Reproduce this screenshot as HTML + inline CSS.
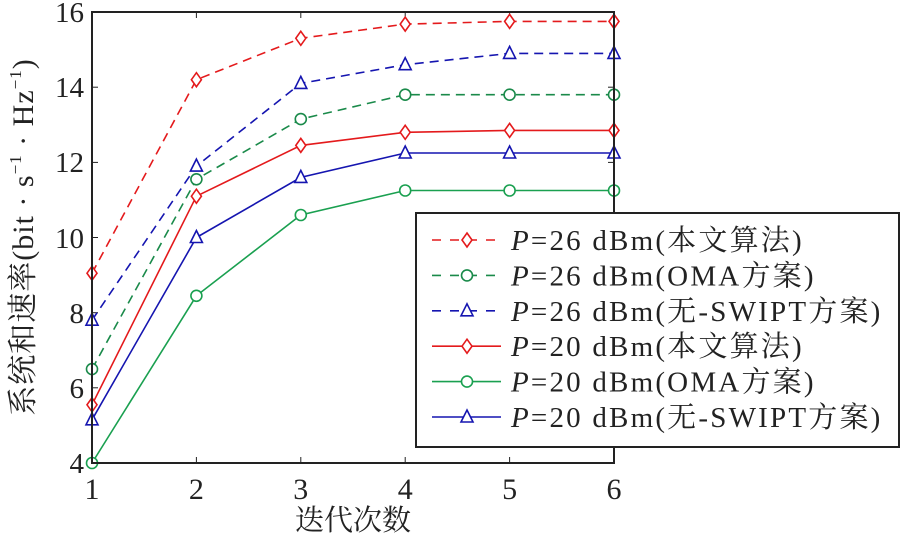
<!DOCTYPE html><html><head><meta charset="utf-8"><style>body{margin:0;background:#fff}</style></head><body>
<svg width="900" height="538" xmlns="http://www.w3.org/2000/svg" font-family="'Liberation Serif','Noto Serif CJK SC',serif" fill="#222">
<defs>
<marker id="dr" markerUnits="userSpaceOnUse" markerWidth="16" markerHeight="18" refX="8" refY="9" overflow="visible"><path d="M8 2L13 9L8 16L3 9Z" fill="#fff" stroke="#e41a1c" stroke-width="1.6"/></marker>
<marker id="og" markerUnits="userSpaceOnUse" markerWidth="16" markerHeight="16" refX="8" refY="8" overflow="visible"><circle cx="8" cy="8" r="5.5" fill="#fff" stroke="#1a8a4a" stroke-width="1.6"/></marker>
<marker id="og2" markerUnits="userSpaceOnUse" markerWidth="16" markerHeight="16" refX="8" refY="8" overflow="visible"><circle cx="8" cy="8" r="5.5" fill="#fff" stroke="#1aa050" stroke-width="1.6"/></marker>
<marker id="tb" markerUnits="userSpaceOnUse" markerWidth="16" markerHeight="16" refX="8" refY="8" overflow="visible"><path d="M8 1L14 13L2 13Z" fill="#fff" stroke="#1515b0" stroke-width="1.6"/></marker>
</defs>
<g stroke="#222" stroke-width="1">
<line x1="92" y1="387.8" x2="98" y2="387.8"/><line x1="92" y1="312.7" x2="98" y2="312.7"/><line x1="92" y1="237.5" x2="98" y2="237.5"/><line x1="92" y1="162.4" x2="98" y2="162.4"/><line x1="92" y1="87.2" x2="98" y2="87.2"/>
<line x1="608" y1="387.8" x2="614" y2="387.8"/><line x1="608" y1="312.7" x2="614" y2="312.7"/><line x1="608" y1="237.5" x2="614" y2="237.5"/><line x1="608" y1="162.4" x2="614" y2="162.4"/><line x1="608" y1="87.2" x2="614" y2="87.2"/>
<line x1="196.4" y1="463" x2="196.4" y2="457"/><line x1="300.8" y1="463" x2="300.8" y2="457"/><line x1="405.2" y1="463" x2="405.2" y2="457"/><line x1="509.6" y1="463" x2="509.6" y2="457"/>
<line x1="196.4" y1="12" x2="196.4" y2="18"/><line x1="300.8" y1="12" x2="300.8" y2="18"/><line x1="405.2" y1="12" x2="405.2" y2="18"/><line x1="509.6" y1="12" x2="509.6" y2="18"/>
</g>
<g font-size="29" text-anchor="end">
<text x="84" y="473">4</text><text x="84" y="398">6</text><text x="84" y="323">8</text><text x="84" y="248">10</text><text x="84" y="172">12</text><text x="84" y="97">14</text><text x="84" y="22">16</text>
</g>
<g font-size="30" text-anchor="middle">
<text x="92" y="499">1</text><text x="196.4" y="499">2</text><text x="300.8" y="499">3</text><text x="405.2" y="499">4</text><text x="509.6" y="499">5</text><text x="614" y="499">6</text>
</g>
<g fill="none" stroke-width="1.6">
<polyline stroke="#e41a1c" stroke-dasharray="9,6" points="92,273.2 196.4,79.7 300.8,38.3 405.2,24.1 509.6,21.4 614,21.4" marker-start="url(#dr)" marker-mid="url(#dr)" marker-end="url(#dr)"/>
<polyline stroke="#1a8a4a" stroke-dasharray="9,6" points="92,369.1 196.4,179.3 300.8,119.1 405.2,94.7 509.6,94.7 614,94.7" marker-start="url(#og)" marker-mid="url(#og)" marker-end="url(#og)"/>
<polyline stroke="#1515b0" stroke-dasharray="9,6" points="92,320.2 196.4,166.1 300.8,83.4 405.2,64.7 509.6,53.4 614,53.4" marker-start="url(#tb)" marker-mid="url(#tb)" marker-end="url(#tb)"/>
<polyline stroke="#e41a1c" points="92,404.8 196.4,196.2 300.8,145.4 405.2,132.3 509.6,130.4 614,130.4" marker-start="url(#dr)" marker-mid="url(#dr)" marker-end="url(#dr)"/>
<polyline stroke="#1aa050" points="92,463 196.4,295.8 300.8,215 405.2,190.5 509.6,190.5 614,190.5" marker-start="url(#og2)" marker-mid="url(#og2)" marker-end="url(#og2)"/>
<polyline stroke="#1515b0" points="92,419.8 196.4,237.5 300.8,177.4 405.2,153 509.6,153 614,153" marker-start="url(#tb)" marker-mid="url(#tb)" marker-end="url(#tb)"/>
</g>
<rect x="92" y="12" width="522" height="451" fill="none" stroke="#222" stroke-width="2"/>
<rect x="416" y="213" width="483" height="234" fill="#fff" stroke="#222" stroke-width="2"/>
<g fill="none" stroke-width="1.6">
<polyline stroke="#e41a1c" stroke-dasharray="9,9" points="432,240 467,240 501,240" marker-mid="url(#dr)"/>
<polyline stroke="#1a8a4a" stroke-dasharray="9,9" points="432,275.4 467,275.4 501,275.4" marker-mid="url(#og)"/>
<polyline stroke="#1515b0" stroke-dasharray="9,9" points="432,310.8 467,310.8 501,310.8" marker-mid="url(#tb)"/>
<polyline stroke="#e41a1c" points="432,346.2 467,346.2 501,346.2" marker-mid="url(#dr)"/>
<polyline stroke="#1aa050" points="432,381.6 467,381.6 501,381.6" marker-mid="url(#og2)"/>
<polyline stroke="#1515b0" points="432,417 467,417 501,417" marker-mid="url(#tb)"/>
</g>
<g font-size="29" letter-spacing="2.2">
<text x="511" y="250"><tspan font-style="italic">P</tspan>=26 dBm(本文算法)</text>
<text x="511" y="285.4"><tspan font-style="italic">P</tspan>=26 dBm(OMA方案)</text>
<text x="511" y="320.8"><tspan font-style="italic">P</tspan>=26 dBm(无-SWIPT方案)</text>
<text x="511" y="356.2"><tspan font-style="italic">P</tspan>=20 dBm(本文算法)</text>
<text x="511" y="391.6"><tspan font-style="italic">P</tspan>=20 dBm(OMA方案)</text>
<text x="511" y="427"><tspan font-style="italic">P</tspan>=20 dBm(无-SWIPT方案)</text>
</g>
<text x="353" y="530" font-size="29" text-anchor="middle">迭代次数</text>
<text transform="translate(33,237) rotate(-90)" font-size="30" text-anchor="middle" letter-spacing="1">系统和速率(bit · s<tspan font-size="17" dy="-12">−1</tspan><tspan dy="12"> · Hz</tspan><tspan font-size="17" dy="-12">−1</tspan><tspan dy="12">)</tspan></text>
</svg></body></html>
